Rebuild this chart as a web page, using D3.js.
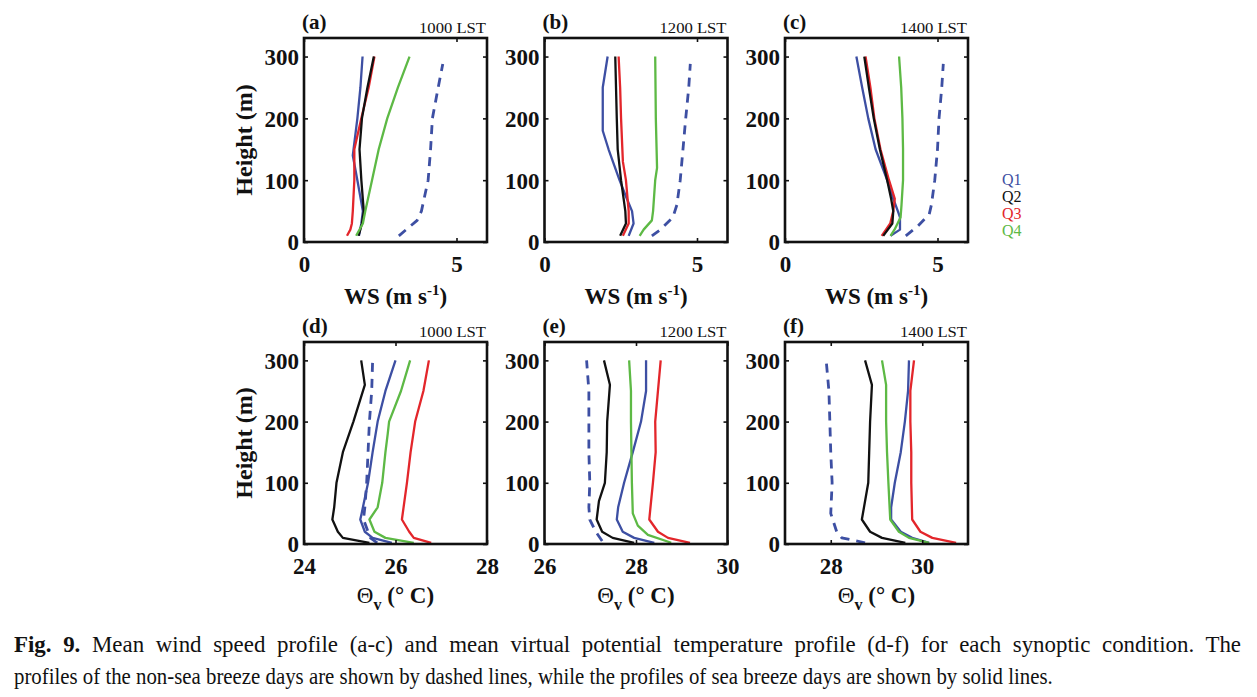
<!DOCTYPE html>
<html><head><meta charset="utf-8">
<script src="https://cdn.jsdelivr.net/npm/d3@7"></script>
<style>
body{margin:0;background:#fff}
svg{display:block}
text{font-family:"Liberation Serif","Times New Roman",serif}
</style>
</head><body>
<svg id="chart" width="1257" height="697"></svg>
<script>
// ---------------- data (height m, value) ----------------
const seriesNames = ["Non-SB", "Q1", "Q2", "Q3", "Q4"];
const legendNames = ["Q1", "Q2", "Q3", "Q4"];
const heightTicks = [0, 100, 200, 300];
const wsTicks = [0, 5];
const thetaTicks1000 = [24, 26, 28];
const thetaTicks1200 = [26, 28, 30];
const thetaTicks1400 = [28, 30];
const panelLabels = ["(a)", "(b)", "(c)", "(d)", "(e)", "(f)"];
const timeLabels = ["1000 LST", "1200 LST", "1400 LST"];

// Wind speed, 1000 LST
const ws1000_NSB = [[10,3.11],[35,3.71],[50,3.85],[100,4.07],[150,4.15],[200,4.21],[250,4.40],[288,4.55]];
const ws1000_Q1 = [[10,1.80],[30,1.88],[50,1.93],[100,1.75],[140,1.60],[200,1.75],[250,1.85],[300,1.92]];
const ws1000_Q2 = [[10,1.79],[30,1.90],[50,1.96],[100,1.88],[150,1.82],[200,1.90],[250,2.08],[300,2.29]];
const ws1000_Q3 = [[10,1.41],[20,1.52],[30,1.57],[50,1.60],[100,1.65],[150,1.65],[200,1.88],[250,2.12],[300,2.31]];
const ws1000_Q4 = [[10,1.71],[30,1.93],[50,2.01],[100,2.23],[150,2.45],[200,2.73],[250,3.08],[300,3.46]];
// Wind speed, 1200 LST
const ws1200_NSB = [[10,3.52],[20,3.80],[40,4.21],[60,4.34],[100,4.45],[150,4.54],[200,4.63],[250,4.73],[288,4.78]];
const ws1200_Q1 = [[10,2.76],[30,2.92],[50,2.87],[70,2.70],[100,2.46],[150,2.10],[180,1.91],[250,1.91],[300,2.07]];
const ws1200_Q2 = [[10,2.48],[30,2.67],[50,2.65],[100,2.51],[150,2.40],[200,2.37],[300,2.32]];
const ws1200_Q3 = [[10,2.57],[30,2.76],[50,2.76],[100,2.67],[130,2.57],[200,2.51],[250,2.48],[300,2.43]];
const ws1200_Q4 = [[10,3.12],[20,3.25],[35,3.52],[50,3.56],[100,3.63],[120,3.69],[200,3.65],[300,3.63]];
// Wind speed, 1400 LST
const ws1400_NSB = [[10,3.96],[25,4.34],[45,4.73],[60,4.80],[100,4.91],[150,5.00],[200,5.05],[250,5.14],[288,5.19]];
const ws1400_Q1 = [[10,3.46],[20,3.77],[40,3.77],[50,3.70],[70,3.55],[100,3.35],[150,2.97],[200,2.73],[250,2.53],[300,2.34]];
const ws1400_Q2 = [[10,3.22],[30,3.52],[50,3.55],[70,3.48],[100,3.35],[150,3.11],[200,2.91],[250,2.75],[300,2.60]];
const ws1400_Q3 = [[10,3.17],[30,3.45],[50,3.55],[70,3.60],[100,3.41],[150,3.13],[200,2.93],[250,2.80],[300,2.64]];
const ws1400_Q4 = [[10,3.46],[20,3.59],[40,3.79],[60,3.82],[100,3.87],[150,3.87],[200,3.85],[250,3.81],[300,3.74]];
// Virtual potential temperature, 1000 LST
const th1000_NSB = [[2,25.60],[10,25.45],[40,25.30],[60,25.33],[100,25.37],[150,25.40],[200,25.43],[250,25.48],[300,25.50]];
const th1000_Q1 = [[2,25.92],[10,25.50],[20,25.33],[40,25.23],[50,25.26],[100,25.40],[150,25.50],[200,25.61],[250,25.78],[300,26.00]];
const th1000_Q2 = [[2,25.43],[10,24.85],[20,24.74],[40,24.62],[60,24.66],[100,24.71],[150,24.85],[200,25.08],[260,25.33],[300,25.25]];
const th1000_Q3 = [[2,26.78],[10,26.40],[20,26.30],[40,26.14],[100,26.25],[150,26.33],[200,26.43],[250,26.61],[300,26.73]];
const th1000_Q4 = [[2,26.40],[10,25.78],[20,25.54],[40,25.43],[60,25.61],[100,25.71],[150,25.78],[180,25.83],[200,25.86],[250,26.12],[300,26.32]];
// Virtual potential temperature, 1200 LST
const th1200_NSB = [[5,27.26],[20,27.12],[40,26.99],[60,26.97],[100,26.99],[150,26.97],[200,26.97],[250,26.97],[300,26.92]];
const th1200_Q1 = [[2,28.40],[10,27.96],[20,27.71],[40,27.58],[60,27.61],[100,27.74],[150,27.93],[200,28.11],[250,28.22],[300,28.22]];
const th1200_Q2 = [[2,27.96],[10,27.49],[20,27.26],[40,27.14],[70,27.19],[100,27.32],[150,27.36],[200,27.37],[260,27.43],[300,27.30]];
const th1200_Q3 = [[2,29.18],[10,28.70],[20,28.48],[40,28.29],[100,28.37],[150,28.43],[200,28.42],[250,28.48],[300,28.54]];
const th1200_Q4 = [[2,28.77],[15,28.26],[30,28.04],[50,27.93],[100,27.91],[150,27.90],[200,27.89],[250,27.89],[300,27.85]];
// Virtual potential temperature, 1400 LST
const th1400_NSB = [[2,28.75],[10,28.24],[20,28.13],[50,28.00],[100,28.03],[150,28.00],[200,27.98],[250,27.96],[300,27.90]];
const th1400_Q1 = [[2,30.15],[10,29.78],[20,29.53],[40,29.32],[60,29.32],[100,29.40],[150,29.53],[200,29.62],[250,29.69],[300,29.71]];
const th1400_Q2 = [[2,29.63],[10,29.12],[20,28.86],[40,28.68],[100,28.82],[150,28.84],[200,28.86],[260,28.90],[300,28.75]];
const th1400_Q3 = [[2,30.74],[10,30.22],[20,29.96],[40,29.78],[100,29.76],[150,29.76],[200,29.74],[250,29.74],[300,29.82]];
const th1400_Q4 = [[2,30.15],[10,29.71],[20,29.49],[40,29.30],[100,29.26],[150,29.23],[200,29.21],[260,29.21],[300,29.12]];

const captionLine1Bold = "Fig. 9.";
const captionLine1 = " Mean wind speed profile (a-c) and mean virtual potential temperature profile (d-f) for each synoptic condition. The";
const captionLine2 = "profiles of the non-sea breeze days are shown by dashed lines, while the profiles of sea breeze days are shown by solid lines.";

// ---------------- styles ----------------
const colors = {"Non-SB":"#3d4fa3","Q1":"#3d4fa3","Q2":"#111111","Q3":"#e3262b","Q4":"#5db945"};
const serif = "Liberation Serif, Times New Roman, serif";

const svg = d3.select("#chart");
const panelW = 183, rowTop = [38, 342], rowH = [204, 202];
const colLeft = [304, 544.5, 785];

const panels = [
  {col:0,row:0,dom:[0,6],ticks:wsTicks,kind:"ws",data:[ws1000_NSB,ws1000_Q1,ws1000_Q3,ws1000_Q2,ws1000_Q4]},
  {col:1,row:0,dom:[0,6],ticks:wsTicks,kind:"ws",data:[ws1200_NSB,ws1200_Q1,ws1200_Q3,ws1200_Q2,ws1200_Q4]},
  {col:2,row:0,dom:[0,6],ticks:wsTicks,kind:"ws",data:[ws1400_NSB,ws1400_Q1,ws1400_Q3,ws1400_Q2,ws1400_Q4]},
  {col:0,row:1,dom:[24,28],ticks:thetaTicks1000,kind:"th",data:[th1000_NSB,th1000_Q1,th1000_Q3,th1000_Q2,th1000_Q4]},
  {col:1,row:1,dom:[26,30],ticks:thetaTicks1200,kind:"th",data:[th1200_NSB,th1200_Q1,th1200_Q3,th1200_Q2,th1200_Q4]},
  {col:2,row:1,dom:[27,31],ticks:thetaTicks1400,kind:"th",data:[th1400_NSB,th1400_Q1,th1400_Q3,th1400_Q2,th1400_Q4]}
];
const drawOrder = ["Non-SB","Q1","Q3","Q2","Q4"];
const fmt = d3.format("d");

panels.forEach((p, i) => {
  const x0 = colLeft[p.col], y0 = rowTop[p.row], h = rowH[p.row];
  const x = d3.scaleLinear().domain(p.dom).range([x0, x0 + panelW]);
  const y = d3.scaleLinear().domain([0, 330]).range([y0 + h, y0]);
  const g = svg.append("g");

  const line = d3.line().x(d => x(d[1])).y(d => y(d[0]));
  p.data.forEach((ser, k) => {
    const name = drawOrder[k];
    g.append("path").datum(ser).attr("d", line)
      .attr("fill", "none").attr("stroke", colors[name])
      .attr("stroke-width", name === "Non-SB" ? 2.8 : 2.3)
      .attr("stroke-linejoin", "round")
      .attr("stroke-dasharray", name === "Non-SB" ? "9,7" : null);
  });

  const styleAx = sel => { sel.select(".domain").remove(); sel.selectAll("line").attr("stroke","#111").attr("stroke-width",1.6); };
  const left = g.append("g").attr("transform", `translate(${x0},0)`)
    .call(d3.axisLeft(y).tickValues(heightTicks).tickFormat(fmt).tickSize(-4).tickPadding(5));
  styleAx(left);
  left.selectAll("text").attr("font-family",serif).attr("font-weight","bold")
    .attr("font-size",23).attr("fill","#111").attr("dy","0.34em");
  const right = g.append("g").attr("transform", `translate(${x0+panelW},0)`)
    .call(d3.axisRight(y).tickValues(heightTicks).tickSize(-4).tickFormat(""));
  styleAx(right);
  const bottom = g.append("g").attr("transform", `translate(0,${y0+h})`)
    .call(d3.axisBottom(x).tickValues(p.ticks).tickFormat(fmt).tickSize(-4).tickPadding(14));
  styleAx(bottom);
  bottom.selectAll("text").attr("font-family",serif).attr("font-weight","bold")
    .attr("font-size",23).attr("fill","#111");
  const top = g.append("g").attr("transform", `translate(0,${y0})`)
    .call(d3.axisTop(x).tickValues(p.ticks).tickSize(-4).tickFormat(""));
  styleAx(top);

  g.append("rect").attr("x", x0).attr("y", y0).attr("width", panelW).attr("height", h)
    .attr("fill","none").attr("stroke","#111").attr("stroke-width",2.6);

  g.append("text").attr("x", x0 - 2).attr("y", y0 - 9).text(panelLabels[i])
    .attr("font-weight","bold").attr("font-size",21).attr("fill","#111");
  g.append("text").attr("x", x0 + panelW - 1).attr("y", y0 - 5).text(timeLabels[p.col])
    .attr("text-anchor","end").attr("font-size",14).attr("fill","#111")
    .attr("textLength",67).attr("lengthAdjust","spacingAndGlyphs");

  const cx = x0 + panelW / 2;
  if (p.kind === "ws") {
    const t = g.append("text").attr("x", cx).attr("y", y0 + h + 62).attr("text-anchor","middle")
      .attr("font-weight","bold").attr("font-size",23).attr("fill","#111");
    t.append("tspan").text("WS (m s");
    t.append("tspan").attr("dy",-9).attr("font-size",15).text("-1");
    t.append("tspan").attr("dy",9).text(")");
  } else {
    const t = g.append("text").attr("x", cx).attr("y", y0 + h + 59).attr("text-anchor","middle")
      .attr("font-weight","bold").attr("font-size",23).attr("fill","#111");
    t.append("tspan").attr("font-weight","normal").text("Θ");
    t.append("tspan").attr("dy",7).attr("font-size",16).text("v");
    t.append("tspan").attr("dy",-7).text(" (° C)");
  }

  if (p.col === 0) {
    g.append("text").attr("transform", `translate(${x0 - 52},${y0 + h/2}) rotate(-90)`)
      .attr("text-anchor","middle").attr("font-weight","bold").attr("font-size",24)
      .attr("fill","#111").text("Height (m)");
  }
});

legendNames.forEach((n, i) => {
  svg.append("text").attr("x", 1002).attr("y", 185 + i * 17).text(n)
    .attr("font-size",16).attr("fill", colors[n]);
});

// caption: condensed glyphs; line 1 justified partly by glyph width, partly by word spacing
const capG2 = svg.append("g");
const t2 = capG2.append("text").attr("x", 0).attr("y", 0).attr("font-size",23).attr("fill","#111").text(captionLine2);
const nat2 = t2.node().getComputedTextLength();
const sx = 1039 / nat2;
capG2.attr("transform", `translate(14,684) scale(${sx},1)`);
const sx1 = sx * 1.1;
const capG1 = svg.append("g").attr("transform", `translate(14,652) scale(${sx1},1)`);
const t1 = capG1.append("text").attr("x", 0).attr("y", 0).attr("font-size",23).attr("fill","#111");
t1.append("tspan").attr("font-weight","bold").text(captionLine1Bold);
t1.append("tspan").text(captionLine1);
const nat1 = t1.node().getComputedTextLength();
const nSpaces = (captionLine1Bold + captionLine1).split(" ").length - 1;
t1.style("word-spacing", Math.max(0, (1227 / sx1 - nat1) / nSpaces) + "px");
</script>
</body></html>
